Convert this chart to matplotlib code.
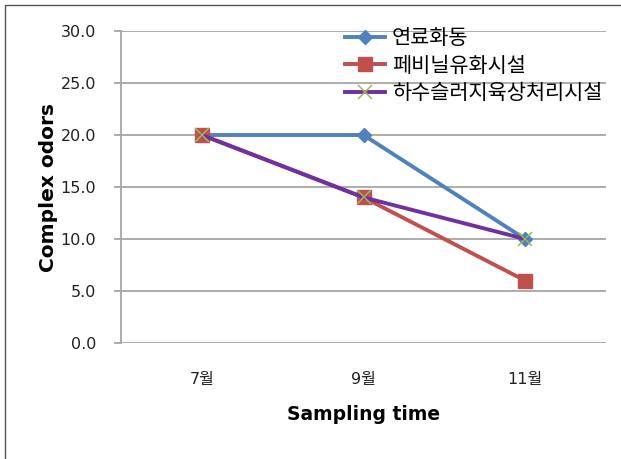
import matplotlib
matplotlib.use("Agg")
import matplotlib.pyplot as plt
from matplotlib.lines import Line2D

plt.rcParams['font.family'] = ['DejaVu Sans', 'Noto Sans CJK KR']

categories = ["7월", "9월", "11월"]
series_names = ["연료화동", "페비닐유화시설", "하수슬러지육상처리시설"]
s_fuel = [20, 20, 10]
s_vinyl = [20, 14, 6]
s_sludge = [20, 14, 10]
y_ticks = [0, 5, 10, 15, 20, 25, 30]

fig = plt.figure(figsize=(6.21, 4.59), dpi=100)
ax = fig.add_axes([121/621, 1-343/459, (606-121)/621, (343-31)/459])

x = list(range(len(categories)))
ax.plot(x, s_fuel, color='#4F81BD', lw=2.8, marker='D', ms=7.5, mfc='#4F81BD', mec='#4F81BD', label=series_names[0], zorder=3)
ax.plot(x, s_vinyl, color='#C0504D', lw=2.8, marker='s', ms=10.5, mfc='#C0504D', mec='#C0504D', label=series_names[1], zorder=3)
ax.plot(x, s_sludge, color='#7030A0', lw=2.8, marker='x', ms=10, mew=1.1, mec='#9BBB59', label=series_names[2], zorder=4)

ax.set_xlim(-0.5, len(categories)-0.5)
ax.set_ylim(0, 30)
ax.set_yticks(y_ticks)
ax.set_yticklabels([f"{v:.1f}" for v in y_ticks])
ax.set_xticks(x)
ax.set_xticklabels(categories)
ax.grid(axis='y', color='#A6A6A6', lw=1.3)
ax.set_axisbelow(True)
for s in ['top', 'right', 'bottom']:
    ax.spines[s].set_visible(False)
ax.spines['left'].set_color('#A6A6A6')
ax.spines['left'].set_linewidth(1.3)
ax.tick_params(axis='y', color='#A6A6A6', length=5, width=1.3, labelsize=11.5, labelcolor='#222222', pad=13)
ax.tick_params(axis='x', length=0, labelsize=11.5, labelcolor='#222222', pad=21)

ax.set_xlabel("Sampling time", fontsize=13.5, fontweight='bold', labelpad=13)
ax.set_ylabel("Complex odors", fontsize=14.5, fontweight='bold', labelpad=2)

leg = fig.legend(loc='upper left', bbox_to_anchor=(345/621, 1-27/459), frameon=False,
                 prop={'family': ['Noto Sans CJK KR'], 'size': 15},
                 handlelength=1.92, labelspacing=0.27, handletextpad=0.33, borderpad=0,
                 borderaxespad=0)

# outer border (left and top edges visible)
fig.add_artist(Line2D([5/621, 5/621, 1.0], [0, 1-5/459, 1-5/459], transform=fig.transFigure, color='#555555', lw=1))

fig.savefig("out.png", dpi=100)
